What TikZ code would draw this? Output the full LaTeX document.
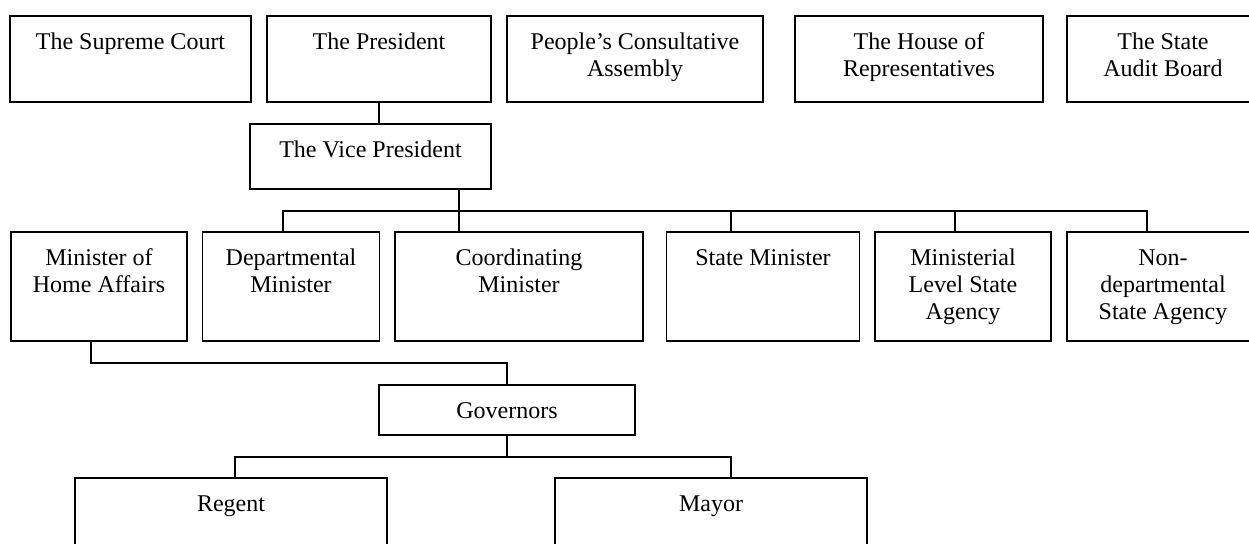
\documentclass[tikz,border=0pt]{standalone}
\usepackage{fontspec}
\setmainfont{Liberation Serif}
\begin{document}
\begin{tikzpicture}[x=0.5pt, y=-0.5pt,
    box/.style={draw, line width=0.9pt, outer sep=0pt, inner sep=0pt},
    txt/.style={anchor=north, align=center, inner sep=0pt, font=\fontsize{12}{13.5}\selectfont},
    conn/.style={line width=0.9pt}]
\useasboundingbox (0,0) rectangle (1249,543);
% boxes: name/centre x/centre y/width/height
\foreach \n/\x/\y/\w/\h in {sc/130.5/59/241/86, pres/379/59/224/86, pca/635/59/256/86,
    dpr/919/59/248/86, bpk/1163/59/192/86, vp/370.5/156.5/241/65,
    home/99/286.5/176/109, dep/291/286.5/177/109, coord/519/286.5/248/109,
    sm/763/286.5/193/109, mlsa/963/286.5/176/109, ndsa/1163/286.5/192/109,
    gov/507/410/256/50, reg/231/523/312/90, may/711/523/312/90}
    \node[box, minimum width=\w*0.5pt, minimum height=\h*0.5pt] (\n) at (\x,\y) {};
% texts, set at the top of each box
\foreach \n/\t in {sc/The Supreme Court, pres/The President,
    pca/{People's Consultative\\Assembly}, dpr/{The House of\\Representatives},
    bpk/{The State\\Audit Board}, vp/The Vice President,
    home/{Minister of\\Home Affairs}, dep/{Departmental\\Minister},
    coord/{Coordinating\\Minister}, sm/State Minister,
    mlsa/{Ministerial\\Level State\\Agency}, ndsa/{Non-\\departmental\\State Agency},
    gov/Governors, reg/Regent, may/Mayor}
    \node[txt] (\n-t) at ([yshift=-7pt]\n.north) {\strut\t};
\draw[conn] (pres.south) -- (pres.south |- vp.north);
% ministers
\foreach \c/\n in {283/dep, 459/coord, 731/sm, 955/mlsa, 1147/ndsa}
    \coordinate (j-\n) at (\c,211);
\draw[conn] (j-dep |- dep.north) -- (j-dep) -- (j-ndsa) -- (j-ndsa |- ndsa.north);
\foreach \n in {sm, mlsa}
    \draw[conn] (j-\n) -- (j-\n |- \n.north);
\draw[conn] (vp.south -| j-coord) -- (coord.north -| j-coord);
% regions
\coordinate (h1) at (91,363);
\draw[conn] (h1 |- home.south) -- (h1) -- (h1 -| gov.north) -- (gov.north);
\coordinate (g1) at (235,457);
\coordinate (g2) at (731,457);
\draw[conn] (gov.south) -- (gov.south |- g1);
\draw[conn] (g1 |- reg.north) -- (g1) -- (g2) -- (g2 |- may.north);
\end{tikzpicture}
\end{document}
